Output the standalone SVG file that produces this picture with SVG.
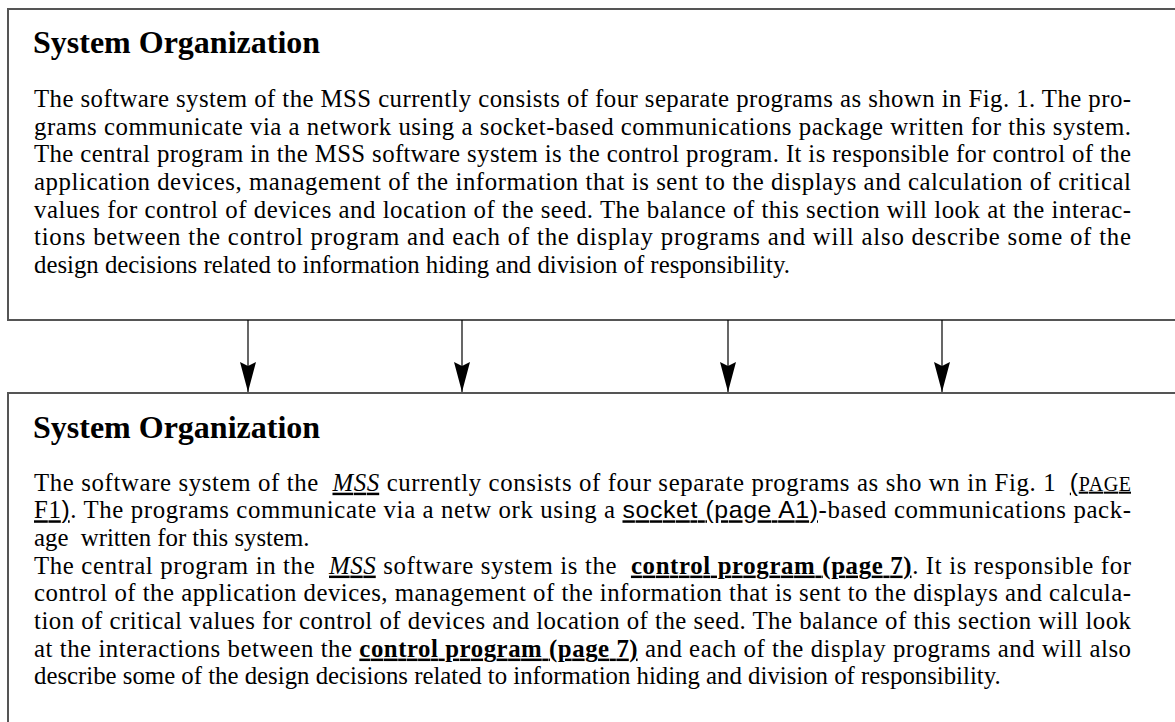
<svg xmlns="http://www.w3.org/2000/svg" width="1175" height="722" viewBox="0 0 1175 722">
<style>
.box{fill:#fff;stroke:#555;stroke-width:2}
.title{font-family:"Liberation Serif","Times New Roman",serif;font-weight:bold;font-size:32px;fill:#000}
.body{font-family:"Liberation Serif","Times New Roman",serif;font-size:24.8px;fill:#000;white-space:pre}
.ul{text-decoration:underline}
.it{font-style:italic}
.b{font-weight:bold}
.sans{font-family:"Liberation Sans",Arial,sans-serif}
.sc{font-size:20px}
.conn{stroke:#000;stroke-width:1.2;fill:none}
</style>
<defs>
<marker id="ah" viewBox="0 0 30 16" refX="30" refY="8" markerWidth="30" markerHeight="16" markerUnits="userSpaceOnUse" orient="auto">
<path d="M0,0 L30,8 L0,16 L4,8 z" fill="#000"/>
</marker>
</defs>
<g id="node-plain">
<rect class="box" x="8" y="9" width="1180" height="311"/>
<text class="title" x="33" y="53">System Organization</text>
<text class="body" x="34" y="107" textLength="1097" lengthAdjust="spacing">The software system of the MSS currently consists of four separate programs as shown in Fig. 1. The pro-</text>
<text class="body" x="34" y="134.7" textLength="1097" lengthAdjust="spacing">grams communicate via a network using a socket-based communications package written for this system.</text>
<text class="body" x="34" y="162.3" textLength="1097" lengthAdjust="spacing">The central program in the MSS software system is the control program. It is responsible for control of the</text>
<text class="body" x="34" y="190" textLength="1097" lengthAdjust="spacing">application devices, management of the information that is sent to the displays and calculation of critical</text>
<text class="body" x="34" y="217.6" textLength="1097" lengthAdjust="spacing">values for control of devices and location of the seed. The balance of this section will look at the interac-</text>
<text class="body" x="34" y="245.3" textLength="1097" lengthAdjust="spacing">tions between the control program and each of the display programs and will also describe some of the</text>
<text class="body" x="34" y="273">design decisions related to information hiding and division of responsibility.</text>
</g>
<g id="connectors">
<line class="conn" x1="248" y1="320" x2="248" y2="392" marker-end="url(#ah)"/>
<line class="conn" x1="462" y1="320" x2="462" y2="392" marker-end="url(#ah)"/>
<line class="conn" x1="728" y1="320" x2="728" y2="392" marker-end="url(#ah)"/>
<line class="conn" x1="942" y1="320" x2="942" y2="392" marker-end="url(#ah)"/>
</g>
<g id="node-linked">
<rect class="box" x="8" y="393" width="1180" height="340"/>
<text class="title" x="33" y="437.6">System Organization</text>
<text class="body" x="34" y="490.7" textLength="1097" lengthAdjust="spacing">The software system of the  <tspan class="it ul">MSS</tspan> currently consists of four separate programs as sho wn in Fig. 1  <tspan class="ul"><tspan class="sans">(</tspan><tspan class="sc">PAGE</tspan></tspan></text>
<text class="body" x="34" y="518.3" textLength="1097" lengthAdjust="spacing"><tspan class="ul">F1<tspan class="sans">)</tspan></tspan>. The programs communicate via a netw ork using a <tspan class="sans ul">socket (page A1)</tspan>-based communications pack-</text>
<text class="body" x="34" y="546">age  written for this system.</text>
<text class="body" x="34" y="573.6" textLength="1097" lengthAdjust="spacing">The central program in the  <tspan class="it ul">MSS</tspan> software system is the  <tspan class="b ul">control program (page 7)</tspan>. It is responsible for</text>
<text class="body" x="34" y="601.3" textLength="1097" lengthAdjust="spacing">control of the application devices, management of the information that is sent to the displays and calcula-</text>
<text class="body" x="34" y="629" textLength="1097" lengthAdjust="spacing">tion of critical values for control of devices and location of the seed. The balance of this section will look</text>
<text class="body" x="34" y="656.6" textLength="1097" lengthAdjust="spacing">at the interactions between the <tspan class="b ul">control program (page 7)</tspan> and each of the display programs and will also</text>
<text class="body" x="34" y="684.3">describe some of the design decisions related to information hiding and division of responsibility.</text>
</g>
</svg>
